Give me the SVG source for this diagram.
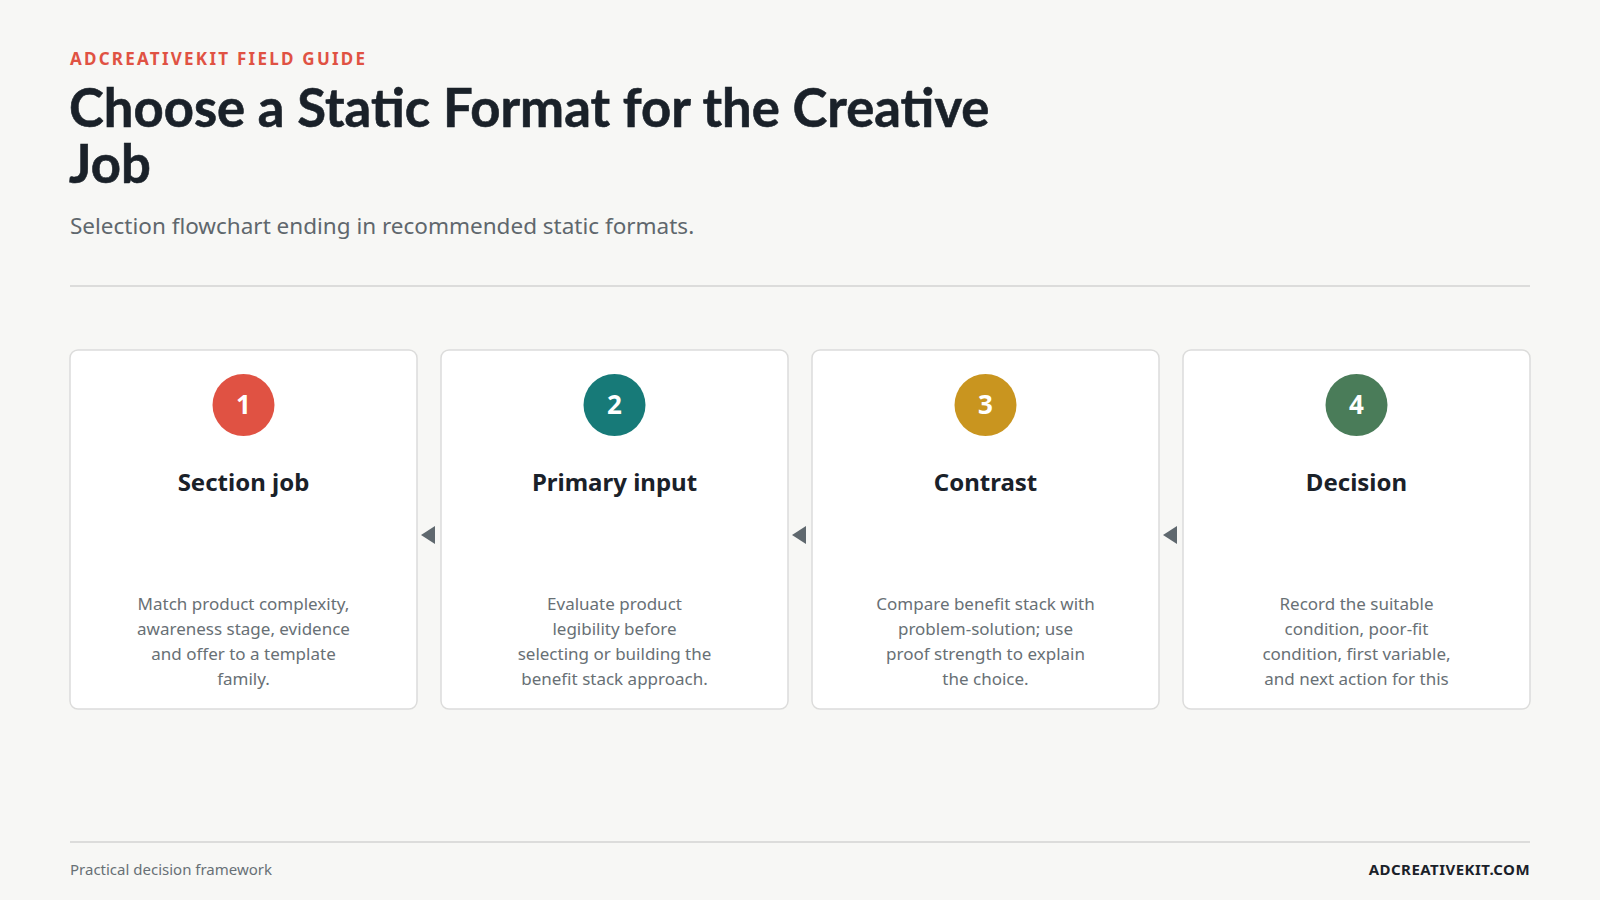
<svg xmlns="http://www.w3.org/2000/svg" width="1600" height="900" viewBox="0 0 1600 900">
<style>
text{font-family:"Noto Sans","Open Sans","Liberation Sans",sans-serif}
.card{fill:#ffffff;stroke:#dcdcdb;stroke-width:1.5}
.num{font-size:26px;font-weight:700;fill:#ffffff;text-anchor:middle}
.ttl{font-size:24px;font-weight:700;fill:#1a2129;text-anchor:middle}
.body{font-size:17px;fill:#687075;text-anchor:middle}
.arr{fill:#5f686e}
.h1{font-family:Lato,"Noto Sans",sans-serif;font-size:52.6px;font-weight:700;fill:#1a2129;stroke:#1a2129;stroke-width:0.6}
</style>
<rect width="1600" height="900" fill="#f7f7f5"/>
<g id="header">
<text x="70" y="65" font-size="17" font-weight="700" fill="#e05243" letter-spacing="2.25">ADCREATIVEKIT FIELD GUIDE</text>
<text class="h1" x="69" y="127">Choose a Static Format for the Creative</text>
<text class="h1" x="69" y="183">Job</text>
<text x="70" y="234" font-size="22.5" fill="#5f676d">Selection flowchart ending in recommended static formats.</text>
<line x1="70" y1="286" x2="1530" y2="286" stroke="#dcdcdb" stroke-width="2"/>
</g>
<g id="connectors">
<polygon class="arr" points="421,535 435,526 435,544"/>
<polygon class="arr" points="792,535 806,526 806,544"/>
<polygon class="arr" points="1163,535 1177,526 1177,544"/>
</g>
<g id="node1">
<rect class="card" x="70" y="350" width="347" height="359" rx="8"/>
<circle cx="243.5" cy="405" r="31" fill="#e05243"/>
<text class="num" x="243.5" y="414">1</text>
<text class="ttl" x="243.5" y="491">Section job</text>
<text class="body" x="243.5" y="610">Match product complexity,</text>
<text class="body" x="243.5" y="635">awareness stage, evidence</text>
<text class="body" x="243.5" y="660">and offer to a template</text>
<text class="body" x="243.5" y="685">family.</text>
</g>
<g id="node2">
<rect class="card" x="441" y="350" width="347" height="359" rx="8"/>
<circle cx="614.5" cy="405" r="31" fill="#177a78"/>
<text class="num" x="614.5" y="414">2</text>
<text class="ttl" x="614.5" y="491">Primary input</text>
<text class="body" x="614.5" y="610">Evaluate product</text>
<text class="body" x="614.5" y="635">legibility before</text>
<text class="body" x="614.5" y="660">selecting or building the</text>
<text class="body" x="614.5" y="685">benefit stack approach.</text>
</g>
<g id="node3">
<rect class="card" x="812" y="350" width="347" height="359" rx="8"/>
<circle cx="985.5" cy="405" r="31" fill="#c9951f"/>
<text class="num" x="985.5" y="414">3</text>
<text class="ttl" x="985.5" y="491">Contrast</text>
<text class="body" x="985.5" y="610">Compare benefit stack with</text>
<text class="body" x="985.5" y="635">problem-solution; use</text>
<text class="body" x="985.5" y="660">proof strength to explain</text>
<text class="body" x="985.5" y="685">the choice.</text>
</g>
<g id="node4">
<rect class="card" x="1183" y="350" width="347" height="359" rx="8"/>
<circle cx="1356.5" cy="405" r="31" fill="#4a7c59"/>
<text class="num" x="1356.5" y="414">4</text>
<text class="ttl" x="1356.5" y="491">Decision</text>
<text class="body" x="1356.5" y="610">Record the suitable</text>
<text class="body" x="1356.5" y="635">condition, poor-fit</text>
<text class="body" x="1356.5" y="660">condition, first variable,</text>
<text class="body" x="1356.5" y="685">and next action for this</text>
</g>
<g id="footer">
<line x1="70" y1="842" x2="1530" y2="842" stroke="#dcdcdb" stroke-width="2"/>
<text x="70" y="875" font-size="15" fill="#687075">Practical decision framework</text>
<text x="1530" y="875" font-size="15" font-weight="700" fill="#1a2129" text-anchor="end" letter-spacing="0.45">ADCREATIVEKIT.COM</text>
</g>
</svg>
